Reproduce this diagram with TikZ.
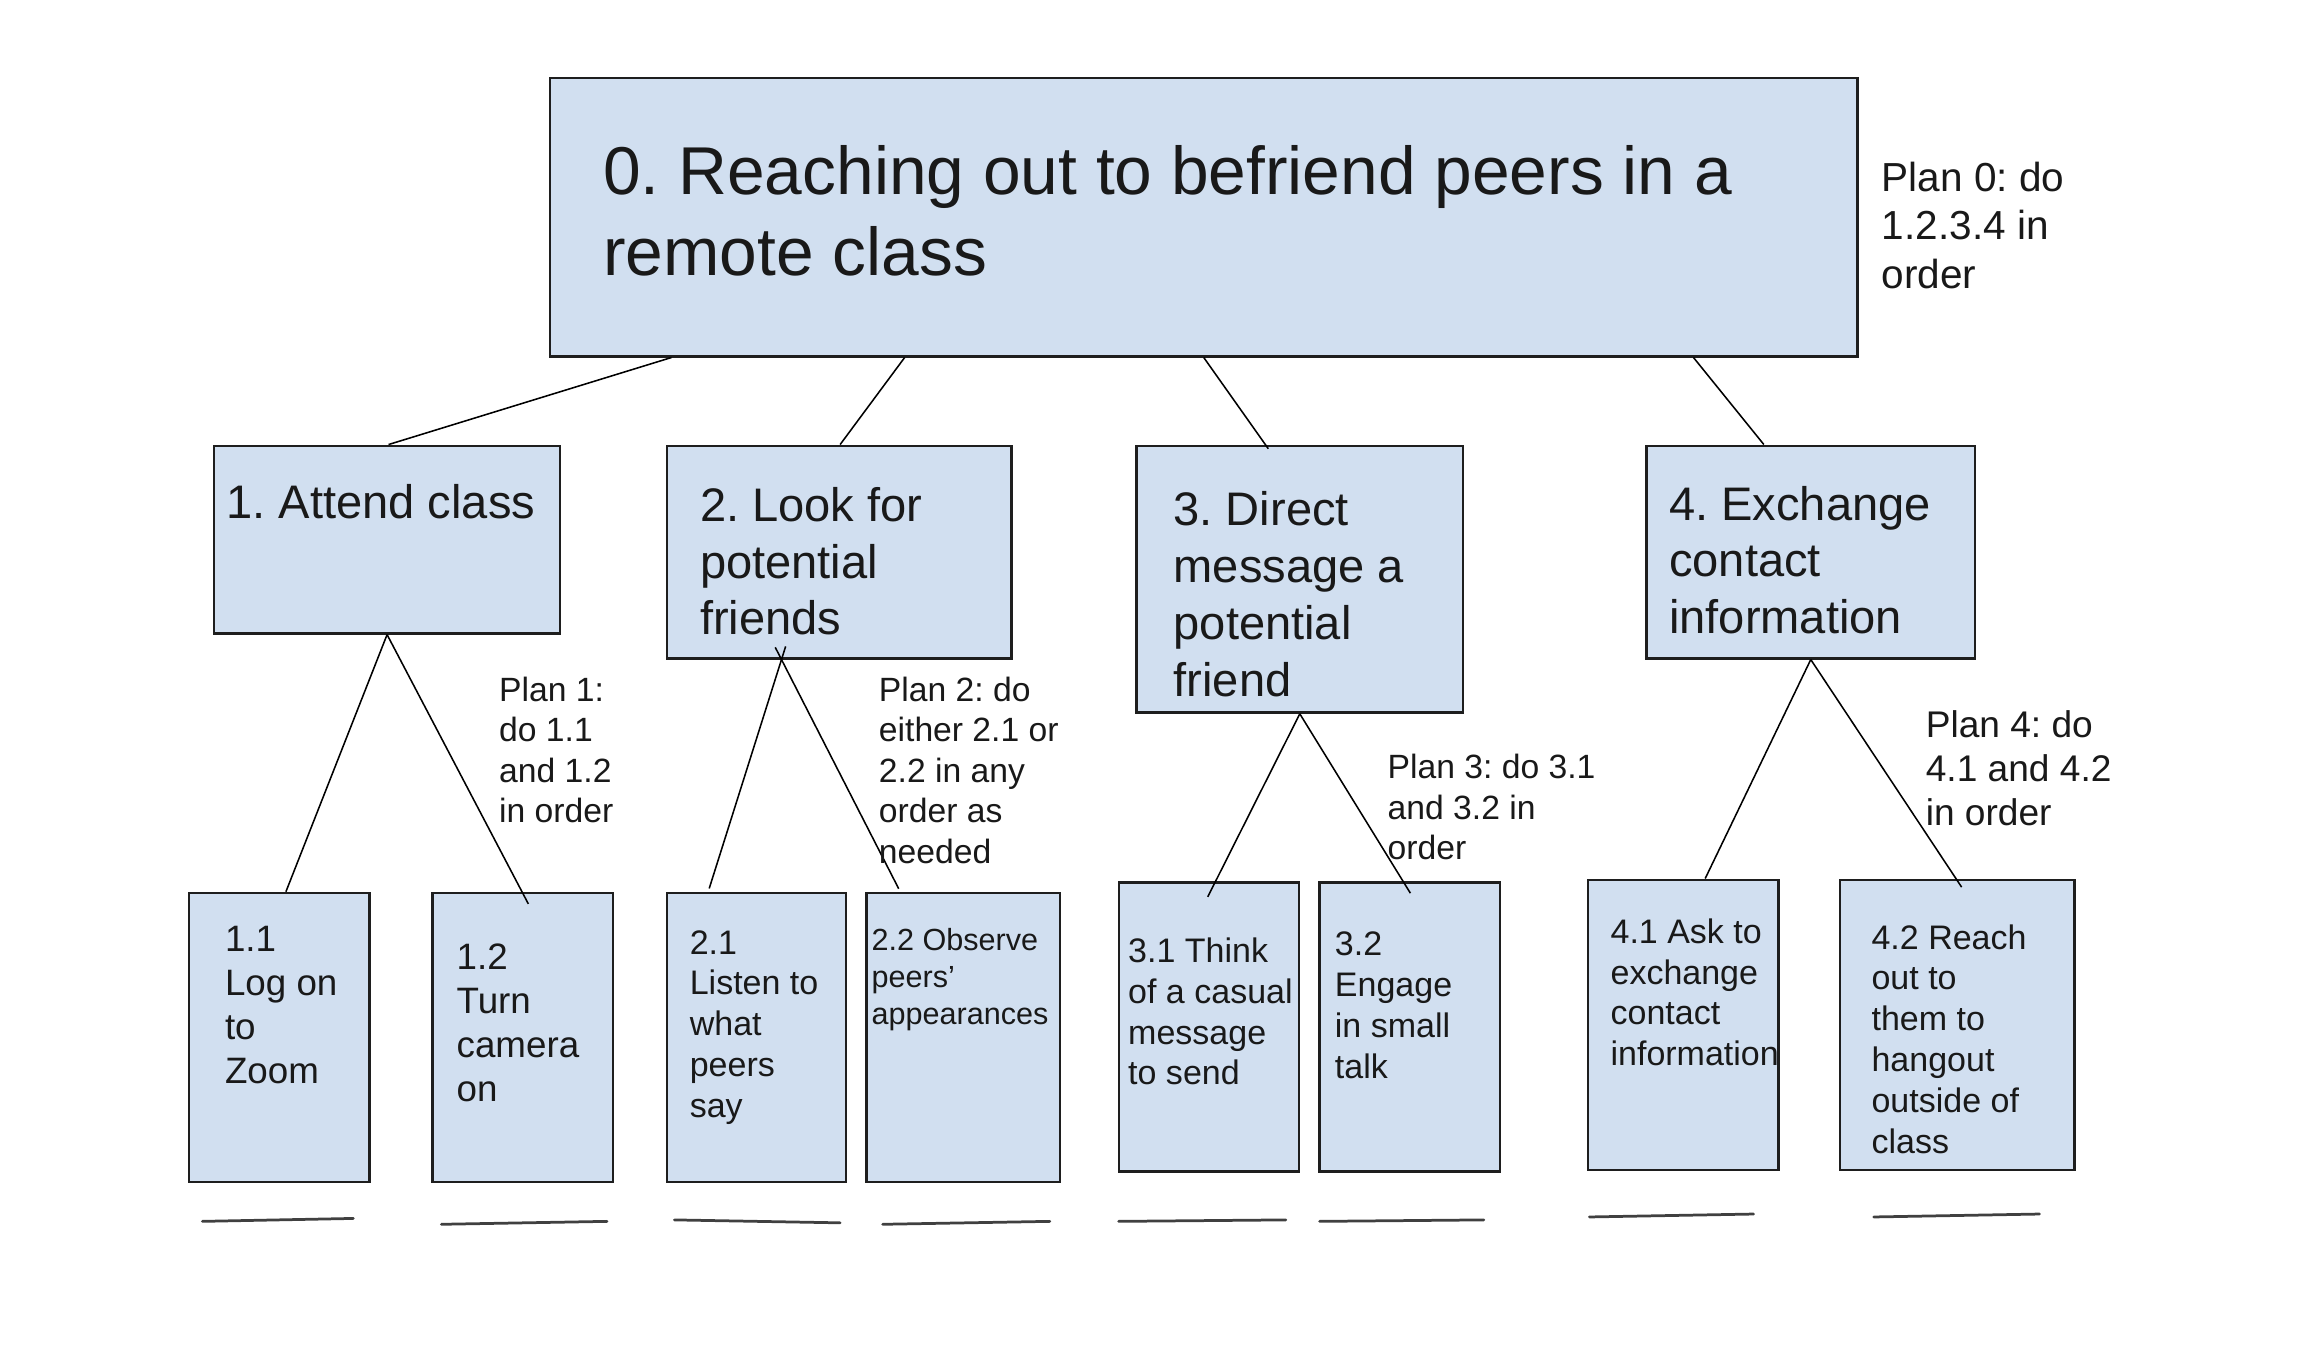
\documentclass[tikz,border=0pt]{standalone}
\usepackage{fontspec}
\setmainfont{Liberation Sans}
\usetikzlibrary{fit}
\definecolor{boxblue}{RGB}{209,223,240}
\definecolor{boxline}{RGB}{30,30,30}
\newcommand{\fsz}[2]{\fontsize{#1pt}{#2pt}\selectfont}
\frenchspacing
\begin{document}
\begin{tikzpicture}[x=0.015cm, y=-0.015cm,
    taskbox/.style={draw=boxline, fill=boxblue, line width=0.7pt, inner sep=0pt},
    tasktext/.style={anchor=north west, inner sep=0pt, align=left, text=black!90},
    link/.style={line width=0.45pt},
    blank/.style={line width=0.8pt, draw=black!75, line cap=round}]
    \useasboundingbox (0,0) rectangle (1568,928);

    % Goal
    \node[taskbox, fit={(375,53) (1267,243)}] (t0) {};
    \node[tasktext, font=\fsz{19.7}{23.6}] (t0txt) at (411,99) {0. Reaching out to befriend peers in a\\remote class};
    \node[tasktext, font=\fsz{11.8}{14.1}] (p0) at (1283,110) {Plan 0: do\\1.2.3.4 in\\order};

    % Subtasks
    \node[taskbox, fit={(146,304) (382,432)}] (t1) {};
    \node[taskbox, fit={(455,304) (690,449)}] (t2) {};
    \node[taskbox, fit={(775,304) (998,486)}] (t3) {};
    \node[taskbox, fit={(1123,304) (1347,449)}] (t4) {};
    \begin{scope}[every node/.style={tasktext, font=\fsz{13.7}{16.5}}]
        \node (t1txt) at (154,330) {1. Attend class};
        \node (t2txt) at (477,332) {2. Look for\\potential\\friends};
        \node (t3txt) at (800,335) {3. Direct\\message a\\potential\\friend};
        \node (t4txt) at (1138,331) {4. Exchange\\contact\\information};
    \end{scope}

    % Steps
    \node[taskbox, fit={(129,609) (252,806)}] (t11) {};
    \node[taskbox, fit={(295,609) (418,806)}] (t12) {};
    \node[taskbox, fit={(455,609) (577,806)}] (t21) {};
    \node[taskbox, fit={(591,609) (723,806)}] (t22) {};
    \node[taskbox, fit={(763,602) (886,799)}] (t31) {};
    \node[taskbox, fit={(900,602) (1023,799)}] (t32) {};
    \node[taskbox, fit={(1083,600) (1213,798)}] (t41) {};
    \node[taskbox, fit={(1255,600) (1415,798)}] (t42) {};
    \node[tasktext, font=\fsz{10.7}{12.8}] (t11txt) at (153,631) {1.1\\Log on\\to\\Zoom};
    \node[tasktext, font=\fsz{10.7}{12.8}] (t12txt) at (311,643) {1.2\\Turn\\camera\\on};
    \node[tasktext, font=\fsz{8.9}{10.7}] (t22txt) at (594,633) {2.2 Observe\\peers'\\appearances};
    \begin{scope}[every node/.style={tasktext, font=\fsz{9.9}{11.9}}]
        \node (t21txt) at (470,634) {2.1\\Listen to\\what\\peers\\say};
        \node (t31txt) at (769,639) {3.1 Think\\of a casual\\message\\to send};
        \node (t32txt) at (910,635) {3.2\\Engage\\in small\\talk};
        \node (t41txt) at (1098,626) {4.1 Ask to\\exchange\\contact\\information};
        \node (t42txt) at (1276,630) {4.2 Reach\\out to\\them to\\hangout\\outside of\\class};
    \end{scope}

    % Links goal -> subtasks
    \draw[link] (458,0 |- t0.south) -- (265,0 |- t1.north);
    \draw[link] (617,0 |- t0.south) -- (573,0 |- t2.north);
    \draw[link, shorten >=-1.5pt] (821,0 |- t0.south) -- (863,0 |- t3.north);
    \draw[link] (1155,0 |- t0.south) -- (1203,0 |- t4.north);

    % Links subtasks -> steps
    \draw[link] (t1.south) -- (195,0 |- t11.north);
    \draw[link, shorten >=-4pt] (t1.south) -- (356,0 |- t12.north);
    \draw[link, shorten <=-4pt, shorten >=1pt] (533,0 |- t2.south) -- (483,0 |- t21.north);
    \draw[link, shorten <=-4pt, shorten >=1pt] (533,0 |- t2.south) -- (614,0 |- t22.north);
    \draw[link, shorten >=-5pt] (t3.south) -- (829,0 |- t31.north);
    \draw[link, shorten >=-4pt] (t3.south) -- (957,0 |- t32.north);
    \draw[link] (t4.south) -- (1163,0 |- t41.north);
    \draw[link, shorten >=-3pt] (t4.south) -- (1334,0 |- t42.north);

    % Plans
    \begin{scope}[every node/.style={tasktext, font=\fsz{9.8}{11.8}}]
        \node (p1) at (340,461) {Plan 1:\\do 1.1\\and 1.2\\in order};
        \node (p2) at (599,461) {Plan 2: do\\either 2.1 or\\2.2 in any\\order as\\needed};
        \node (p3) at (946,514) {Plan 3: do 3.1\\and 3.2 in\\order};
    \end{scope}
    \node[tasktext, font=\fsz{10.8}{12.9}] (p4) at (1313,484) {Plan 4: do\\4.1 and 4.2\\in order};

    % Blanks under the steps
    \draw[blank] (138,833) -- (241,831);
    \draw[blank] (301,835) -- (414,833);
    \draw[blank] (460,832) -- (573,834);
    \draw[blank] (602,835) -- (716,833);
    \draw[blank] (763,833) -- (877,832);
    \draw[blank] (900,833) -- (1012,832);
    \draw[blank] (1084,830) -- (1196,828);
    \draw[blank] (1278,830) -- (1391,828);
\end{tikzpicture}
\end{document}
